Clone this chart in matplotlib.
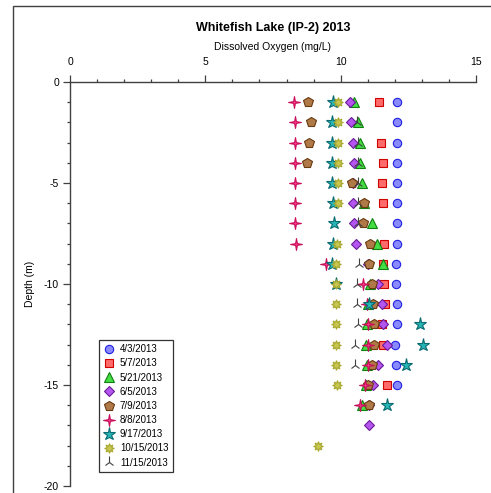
import matplotlib
matplotlib.use("Agg")
import matplotlib.pyplot as plt
from matplotlib.path import Path
from matplotlib.patches import Rectangle
from matplotlib.ticker import MultipleLocator

plt.rcParams["font.family"] = ["Liberation Sans", "DejaVu Sans"]
plt.rcParams["axes.unicode_minus"] = False

# Dissolved oxygen profiles (mg/L) by sampling date
labels = ["4/3/2013", "5/7/2013", "5/21/2013", "6/5/2013", "7/9/2013",
          "8/8/2013", "9/17/2013", "10/15/2013", "11/15/2013"]

depth_0403 = [-1, -2, -3, -4, -5, -6, -7, -8, -9, -10, -11, -12, -13, -14, -15]
do_0403 = [12.07, 12.07, 12.07, 12.07, 12.09, 12.07, 12.07, 12.07, 12.04, 12.04,
           12.07, 12.07, 12.02, 12.04, 12.07]

depth_0507 = [-1, -3, -4, -5, -6, -8, -9, -10, -11, -12, -13, -15]
do_0507 = [11.42, 11.48, 11.57, 11.51, 11.55, 11.60, 11.55, 11.61, 11.64, 11.51, 11.57, 11.70]

depth_0521 = [-1, -2, -3, -4, -5, -6, -7, -8, -9, -10, -11, -12, -13, -14, -15, -16]
do_0521 = [10.50, 10.65, 10.71, 10.71, 10.77, 10.87, 11.17, 11.35, 11.55, 11.10,
           11.00, 10.98, 10.95, 10.98, 10.95, 10.78]

depth_0605 = [-1, -2, -3, -4, -5, -6, -7, -8, -9, -10, -11, -12, -13, -14, -15, -16, -17]
do_0605 = [10.34, 10.38, 10.47, 10.50, 10.45, 10.47, 10.49, 10.55, 11.02, 11.37,
           11.51, 11.57, 11.70, 11.39, 11.18, 11.04, 11.04]

depth_0709 = [-1, -2, -3, -4, -5, -6, -7, -8, -9, -10, -11, -12, -13, -14, -15, -16]
do_0709 = [8.78, 8.89, 8.84, 8.74, 10.43, 10.87, 10.84, 11.10, 11.05, 11.14,
           11.21, 11.24, 11.24, 11.14, 11.02, 11.06]

depth_0808 = [-1, -2, -3, -4, -5, -6, -7, -8, -9, -10, -11, -12, -13, -14, -15, -16]
do_0808 = [8.29, 8.33, 8.33, 8.33, 8.33, 8.33, 8.31, 8.35, 9.46, 10.81,
           10.96, 11.00, 11.00, 11.02, 10.90, 10.70]

depth_0917 = [-1, -2, -3, -4, -5, -6, -7, -8, -9, -10, -11, -12, -13, -14, -16]
do_0917 = [9.73, 9.69, 9.69, 9.69, 9.69, 9.73, 9.76, 9.70, 9.67, 9.83,
           11.06, 12.93, 13.05, 12.43, 11.73]

depth_1015 = [-1, -2, -3, -4, -5, -6, -8, -9, -10, -11, -12, -13, -14, -15, -18]
do_1015 = [9.91, 9.89, 9.89, 9.89, 9.89, 9.91, 9.85, 9.83, 9.83, 9.83,
           9.83, 9.83, 9.83, 9.85, 9.16]

depth_1115 = [-2, -3, -4, -5, -6, -7, -9, -10, -11, -12, -13, -14]
do_1115 = [10.62, 10.64, 10.64, 10.64, 10.65, 10.65, 10.69, 10.61, 10.61, 10.65, 10.53, 10.53]

# 4-point sparkle marker
sparkle = Path([(0, 1), (0.15, 0.15), (1, 0), (0.15, -0.15), (0, -1),
                (-0.15, -0.15), (-1, 0), (-0.15, 0.15), (0, 1)], closed=True)

series = [
    (do_0403, depth_0403, "o", "#8a8aff", "#2020e0", 6),
    (do_0507, depth_0507, "s", "#ff6a6a", "#d00000", 6),
    (do_0521, depth_0521, "^", "#44dd44", "#108010", 6.5),
    (do_0605, depth_0605, "D", "#b455f0", "#6a1a9a", 5.5),
    (do_0709, depth_0709, "p", "#b07a48", "#6a3a10", 7),
    (do_0808, depth_0808, sparkle, "#ff3a8c", "#c8105a", 8.5),
    (do_0917, depth_0917, "*", "#25b5b5", "#0a6a70", 9.5),
    (do_1015, depth_1015, (8, 1, 0), "#c8c850", "#a8a830", 7),
    (do_1115, depth_1115, "2", "#404040", "#404040", 8),
]

fig = plt.figure(figsize=(4.91, 4.93), dpi=100)
ax = fig.add_axes([70 / 491, 1 - 486 / 493, 406 / 491, 404 / 493])

for (x, y, m, fc, ec, ms), lab in zip(series, labels):
    ax.plot(x, y, linestyle="none", marker=m, markersize=ms,
            markerfacecolor=fc, markeredgecolor=ec, markeredgewidth=0.8,
            color=ec, label=lab, clip_on=False)

ax.set_xlim(0, 15)
ax.set_ylim(-20, 0)
ax.xaxis.set_major_locator(MultipleLocator(5))
ax.xaxis.set_minor_locator(MultipleLocator(1))
ax.yaxis.set_major_locator(MultipleLocator(5))
ax.yaxis.set_minor_locator(MultipleLocator(1))
ax.xaxis.tick_top()
ax.spines["right"].set_visible(False)
ax.spines["bottom"].set_visible(False)
for s in ["top", "left"]:
    ax.spines[s].set_color("#404040")
    ax.spines[s].set_linewidth(1.0)
ax.tick_params(which="major", direction="out", length=5, width=0.9,
               color="#404040", labelsize=7.5)
ax.tick_params(axis="x", which="major", pad=6)
ax.tick_params(axis="y", which="major", pad=3)
ax.tick_params(which="minor", direction="out", length=2.5, width=0.9, color="#404040")
ax.set_ylabel("Depth (m)", fontsize=7.5, labelpad=6)

fig.text(273 / 491, 1 - 28 / 493, "Whitefish Lake (IP-2) 2013", ha="center",
         va="center", fontsize=9, fontweight="bold")
fig.text(273 / 491, 1 - 47 / 493, "Dissolved Oxygen (mg/L)", ha="center",
         va="center", fontsize=7.5)

leg = ax.legend(loc="lower left", bbox_to_anchor=(99 / 491, 21 / 493),
                bbox_transform=fig.transFigure, fontsize=7, frameon=True,
                fancybox=False, edgecolor="black", handletextpad=0.5,
                labelspacing=0.43, borderpad=0.45, handlelength=1.2,
                borderaxespad=0)
leg.get_frame().set_linewidth(0.9)

# outer border of the original graph page
fig.patches.append(Rectangle((13 / 491, -0.05), 1.1, 1.05 - 6 / 493,
                             transform=fig.transFigure, fill=False,
                             edgecolor="#404040", linewidth=1.0))

fig.savefig("out.png", dpi=100)
